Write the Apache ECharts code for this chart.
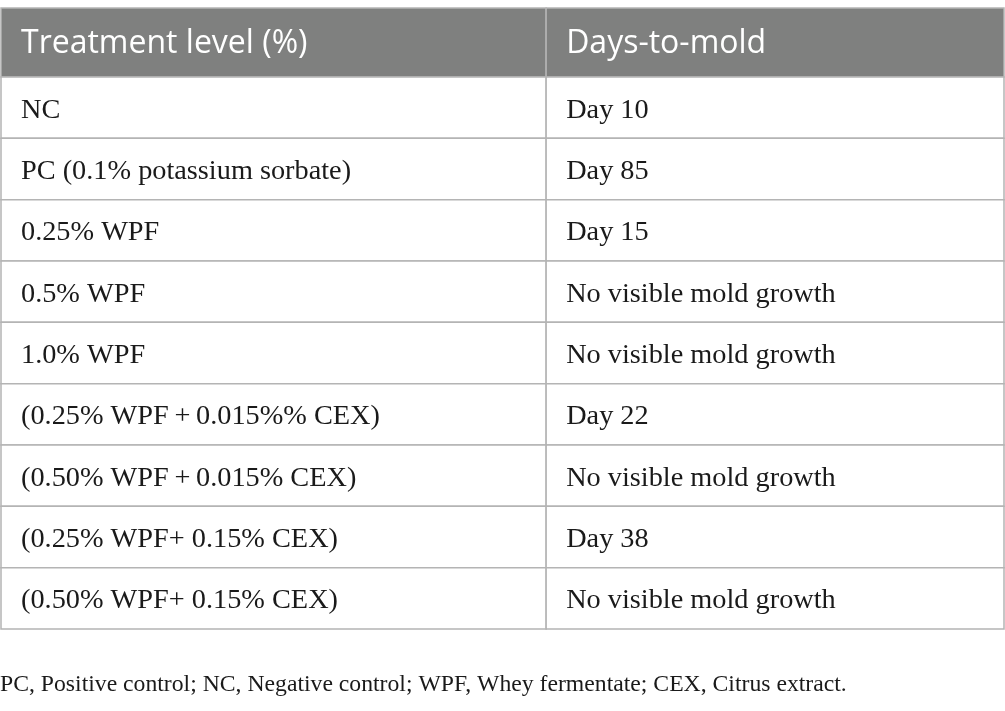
<!DOCTYPE html>
<html>
<head>
<meta charset="utf-8">
<script src="https://cdn.jsdelivr.net/npm/echarts@6/dist/echarts.min.js"></script>
<style>
  html, body { margin: 0; padding: 0; background: #fff; }
  #main { width: 1005px; height: 711px; }
</style>
</head>
<body>
<div id="main"></div>
<script>
// table content
const headers = ['Treatment level (%)', 'Days-to-mold']
const treatments = [
  'NC',
  'PC (0.1% potassium sorbate)',
  '0.25% WPF',
  '0.5% WPF',
  '1.0% WPF',
  '(0.25% WPF\u2009+\u20090.015%% CEX)',
  '(0.50% WPF\u2009+\u20090.015% CEX)',
  '(0.25% WPF+ 0.15% CEX)',
  '(0.50% WPF+ 0.15% CEX)',
]
const daysToMold = [
  'Day 10',
  'Day 85',
  'Day 15',
  'No visible mold growth',
  'No visible mold growth',
  'Day 22',
  'No visible mold growth',
  'Day 38',
  'No visible mold growth',
]
const footnote = 'PC, Positive control; NC, Negative control; WPF, Whey fermentate; CEX, Citrus extract.'

// column boundaries as fraction of table width
const colEdges = [0, 0.5435, 1]

const BORDER = '#b4b4b4'
const HEADER_BG = '#7f807f'
const SERIF = '"Liberation Serif", "DejaVu Serif", serif'
const SANS = '"Open Sans", "Noto Sans", sans-serif'

const headerData = headers.map((h, i) => [i, 0, h])
const bodyData = []
treatments.forEach((t, r) => {
  bodyData.push([0, r, t])
  bodyData.push([1, r, daysToMold[r]])
})

function makeRender(isHeader) {
  return function (params, api) {
    const col = api.value(0)
    const row = api.value(1)
    const text = isHeader ? headers[col] : (col === 0 ? treatments[row] : daysToMold[row])
    const left = api.coord([colEdges[col], row])
    const right = api.coord([colEdges[col + 1], row])
    const h = api.size([0, 1])[1]
    const x = left[0]
    const y = left[1] - h / 2
    const w = right[0] - left[0]
    return {
      type: 'group',
      children: [
        {
          type: 'rect',
          shape: { x: x, y: y, width: w, height: h },
          style: { fill: isHeader ? HEADER_BG : '#fff', stroke: BORDER, lineWidth: 1.5 },
        },
        {
          type: 'text',
          style: {
            x: x + 20,
            y: left[1] + (isHeader ? 1 : 2.5),
            text: text,
            fill: isHeader ? '#fff' : '#1a1a1a',
            font: isHeader ? '32px ' + SANS : '28.3px ' + SERIF,
            verticalAlign: 'middle',
            align: 'left',
          },
        },
      ],
    }
  }
}

const chart = echarts.init(document.getElementById('main'))

const option = {
  animation: false,
  title: {
    text: footnote,
    left: 0,
    top: 673,
    padding: 0,
    textStyle: { fontFamily: SERIF, fontSize: 23.7, fontWeight: 'normal', color: '#1a1a1a' },
  },
  grid: [
    { left: 1, right: 1, top: 8, height: 69 },
    { left: 1, right: 1, top: 77, height: 552 },
  ],
  xAxis: [
    { gridIndex: 0, type: 'value', min: 0, max: 1, show: false },
    { gridIndex: 1, type: 'value', min: 0, max: 1, show: false },
  ],
  yAxis: [
    { gridIndex: 0, type: 'category', data: ['header'], inverse: true, show: false },
    { gridIndex: 1, type: 'category', data: treatments, inverse: true, show: false },
  ],
  series: [
    {
      type: 'custom',
      xAxisIndex: 0,
      yAxisIndex: 0,
      renderItem: makeRender(true),
      data: headerData,
      silent: true,
    },
    {
      type: 'custom',
      xAxisIndex: 1,
      yAxisIndex: 1,
      renderItem: makeRender(false),
      data: bodyData,
      silent: true,
    },
  ],
}

chart.setOption(option)
</script>
</body>
</html>
